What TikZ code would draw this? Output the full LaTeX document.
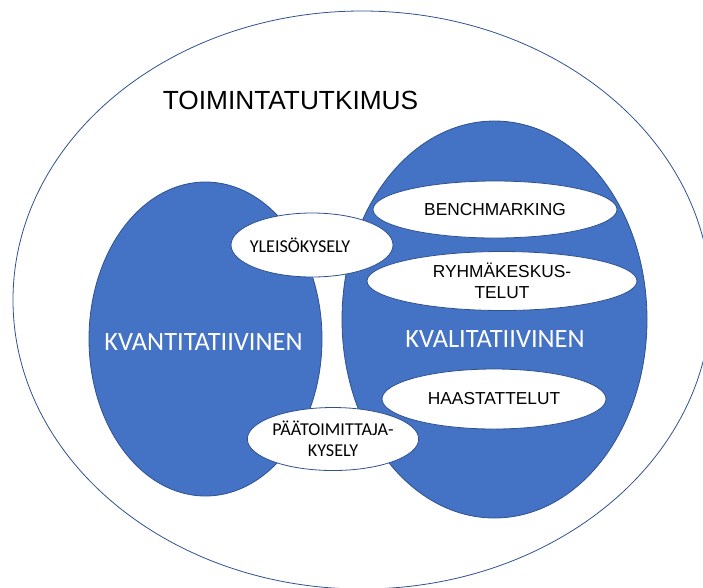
\documentclass[tikz,border=0pt]{standalone}
\usepackage{fontspec}
\setmainfont{Liberation Sans}
\newfontfamily\calibri{Carlito}
\usetikzlibrary{shapes.geometric, positioning}
\definecolor{officeblue}{HTML}{4472C4}
\definecolor{edgeblue}{HTML}{2F528F}
\tikzset{
  big/.style={ellipse, draw=edgeblue, fill=officeblue, line width=0.6pt, inner sep=0pt, outer sep=0pt},
  small/.style={ellipse, draw=edgeblue, fill=white, line width=0.6pt, inner sep=0pt, outer sep=0pt, align=center},
  arial/.style={font=\fontsize{13}{16}\selectfont},
  cal/.style={font=\calibri\fontsize{13.6}{16}\selectfont, align=center},
  bigtext/.style={font=\calibri\fontsize{19.8}{23}\selectfont, text=white}
}

\begin{document}
\begin{tikzpicture}[x=0.75pt, y=-0.75pt]
        \useasboundingbox (0,0) rectangle (703,587);
        \node[ellipse, draw=edgeblue, line width=0.6pt, inner sep=0pt, minimum width=523.5pt, minimum height=433.5pt] (Tutkimus) at (362,300) {};
        \node[font=\fontsize{19.7}{23}\selectfont] (TutkimusText) at (290.5,100) {TOIMINTATUTKIMUS};

        \node[big, minimum width=174.75pt, minimum height=235.5pt] (Kvanti) at (205.5,339) {};
        \node[big, minimum width=228.75pt, minimum height=297.75pt] (Kvali) at (494.5,319.5) {};
        \node[bigtext] (KvantiText) at (203.5,342) {KVANTITATIIVINEN};
        \node[bigtext] (KvaliText) at (495,339) {KVALITATIIVINEN};

        \node[small, arial, minimum width=183pt, minimum height=42.75pt] (Bench) at (495,209.5) {BENCHMARKING};
        \node[small, arial, minimum width=202.5pt, minimum height=44.25pt] (Ryhma) at (502,281) {RYHMÄKESKUS-\\TELUT};
        \node[small, arial, minimum width=168pt, minimum height=45pt] (Haast) at (494,399) {HAASTATTELUT};

        \node[small, minimum width=121.5pt, minimum height=48pt] (Yleiso) at (312,245) {};
        \node[cal] (YleisoText) at (300,245) {YLEISÖKYSELY};
        \node[small, cal, minimum width=120pt, minimum height=47.25pt] (Paatoim) at (333,439) {PÄÄTOIMITTAJA-\\KYSELY};
    \end{tikzpicture}
\end{document}
